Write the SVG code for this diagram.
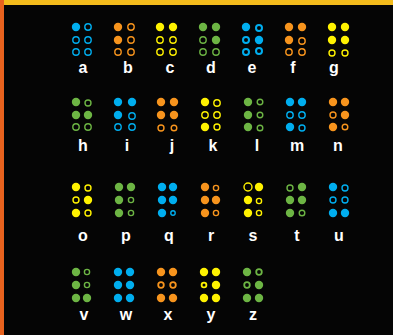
<svg xmlns="http://www.w3.org/2000/svg" width="393" height="335" viewBox="0 0 393 335">
<style>
.bl{color:#00AEEF}.or{color:#F7941D}.ye{color:#FFF200}.gr{color:#6DB544}
.d{fill:currentColor}
.h{fill:none;stroke:currentColor;stroke-width:1.4}
.t{font-family:"Liberation Sans",Arial,sans-serif;font-weight:bold;font-size:16px;fill:#fff;text-anchor:middle}
</style>
<rect width="393" height="335" fill="#050505"/>
<rect x="0" y="0" width="393" height="5" fill="#F4BC1C"/>
<rect x="0" y="0" width="4" height="335" fill="#E8621E"/>
<g id="a" class="bl"><circle class="d" cx="76" cy="27" r="4.2"/><circle class="h" cx="88" cy="27" r="3.2"/><circle class="h" cx="76" cy="40" r="3.2"/><circle class="h" cx="88" cy="40" r="3.2"/><circle class="h" cx="76" cy="52" r="3.2"/><circle class="h" cx="88" cy="52" r="3.2"/><text class="t" x="83" y="73">a</text></g>
<g id="b" class="or"><circle class="d" cx="118" cy="27" r="4.2"/><circle class="h" cx="131" cy="27" r="3.2"/><circle class="d" cx="118" cy="40" r="4.2"/><circle class="h" cx="131" cy="40" r="3.2"/><circle class="h" cx="118" cy="52" r="3.2"/><circle class="h" cx="131" cy="52" r="3.2"/><text class="t" x="128" y="73">b</text></g>
<g id="c" class="ye"><circle class="d" cx="160" cy="27" r="4.2"/><circle class="d" cx="173" cy="27" r="4.2"/><circle class="h" cx="160" cy="40" r="3.2"/><circle class="h" cx="173" cy="40" r="3.2"/><circle class="h" cx="160" cy="52" r="3.2"/><circle class="h" cx="173" cy="52" r="3.2"/><text class="t" x="170" y="73">c</text></g>
<g id="d" class="gr"><circle class="d" cx="203" cy="27" r="4.2"/><circle class="d" cx="216" cy="27" r="4.2"/><circle class="h" cx="203" cy="40" r="3.2"/><circle class="d" cx="216" cy="40" r="4.2"/><circle class="h" cx="203" cy="52" r="3.2"/><circle class="h" cx="216" cy="52" r="3.2"/><text class="t" x="211" y="73">d</text></g>
<g id="e" class="bl"><circle class="d" cx="246" cy="27" r="4.2"/><circle class="h" cx="259" cy="28" r="3" style="stroke-width:2"/><circle class="h" cx="246" cy="40" r="3" style="stroke-width:2"/><circle class="d" cx="259" cy="40" r="4.2"/><circle class="h" cx="246" cy="52" r="3" style="stroke-width:2"/><circle class="h" cx="259" cy="51" r="3" style="stroke-width:2"/><text class="t" x="252" y="73">e</text></g>
<g id="f" class="or"><circle class="d" cx="289" cy="27" r="4.2"/><circle class="d" cx="302" cy="27" r="4.2"/><circle class="d" cx="289" cy="40" r="4.2"/><circle class="h" cx="302" cy="41" r="3.2"/><circle class="h" cx="289" cy="52" r="3.2"/><circle class="h" cx="302" cy="52" r="3.2"/><text class="t" x="293" y="73">f</text></g>
<g id="g" class="ye"><circle class="d" cx="332" cy="27" r="4.2"/><circle class="d" cx="345" cy="27" r="4.2"/><circle class="d" cx="332" cy="40" r="4.2"/><circle class="d" cx="345" cy="40" r="4.2"/><circle class="h" cx="332" cy="53" r="3"/><circle class="h" cx="345" cy="53" r="3"/><text class="t" x="334" y="73">g</text></g>
<g id="h" class="gr"><circle class="d" cx="76" cy="102" r="4.2"/><circle class="h" cx="88" cy="103" r="3"/><circle class="d" cx="76" cy="115" r="4.2"/><circle class="d" cx="88" cy="115" r="4.2"/><circle class="h" cx="76" cy="127" r="3.2"/><circle class="h" cx="88" cy="127" r="3.2"/><text class="t" x="83" y="151">h</text></g>
<g id="i" class="bl"><circle class="d" cx="118" cy="102" r="4.2"/><circle class="d" cx="132" cy="102" r="4.2"/><circle class="d" cx="118" cy="115" r="4.2"/><circle class="h" cx="132" cy="116" r="3.2"/><circle class="h" cx="118" cy="127" r="3.2"/><circle class="h" cx="132" cy="127" r="3.2"/><text class="t" x="127" y="151">i</text></g>
<g id="j" class="or"><circle class="d" cx="161" cy="102" r="4.2"/><circle class="d" cx="174" cy="102" r="4.2"/><circle class="d" cx="161" cy="115" r="4.2"/><circle class="d" cx="174" cy="115" r="4.2"/><circle class="h" cx="161" cy="128" r="3"/><circle class="h" cx="174" cy="128" r="2.8"/><text class="t" x="172" y="151">j</text></g>
<g id="k" class="ye"><circle class="d" cx="205" cy="102" r="4.2"/><circle class="h" cx="217" cy="103" r="3.2"/><circle class="h" cx="205" cy="115" r="3.2"/><circle class="h" cx="217" cy="115" r="3.2"/><circle class="d" cx="205" cy="127" r="4.2"/><circle class="h" cx="217" cy="127" r="3"/><text class="t" x="213" y="151">k</text></g>
<g id="l" class="gr"><circle class="d" cx="248" cy="102" r="4.2"/><circle class="h" cx="260" cy="102" r="2.8"/><circle class="d" cx="248" cy="115" r="4.2"/><circle class="h" cx="260" cy="115" r="2.8"/><circle class="d" cx="248" cy="127" r="4.2"/><circle class="h" cx="260" cy="128" r="2.8"/><text class="t" x="257" y="151">l</text></g>
<g id="m" class="bl"><circle class="d" cx="290" cy="102" r="4.2"/><circle class="d" cx="302" cy="102" r="4.2"/><circle class="h" cx="290" cy="115" r="3.2"/><circle class="h" cx="302" cy="115" r="3.2"/><circle class="d" cx="290" cy="127" r="4.2"/><circle class="h" cx="302" cy="128" r="3"/><text class="t" x="297" y="151">m</text></g>
<g id="n" class="or"><circle class="d" cx="333" cy="102" r="4.2"/><circle class="d" cx="345" cy="102" r="4.2"/><circle class="h" cx="333" cy="115" r="3"/><circle class="d" cx="345" cy="115" r="4.2"/><circle class="d" cx="333" cy="127" r="4.2"/><circle class="h" cx="345" cy="127" r="2.8"/><text class="t" x="338" y="151">n</text></g>
<g id="o" class="ye"><circle class="d" cx="76" cy="187" r="4.2"/><circle class="h" cx="88" cy="188" r="3"/><circle class="h" cx="76" cy="200" r="3"/><circle class="d" cx="88" cy="200" r="4.2"/><circle class="d" cx="76" cy="213" r="4.2"/><circle class="h" cx="88" cy="213" r="3"/><text class="t" x="83" y="241">o</text></g>
<g id="p" class="gr"><circle class="d" cx="119" cy="187" r="4.2"/><circle class="d" cx="131" cy="187" r="4.2"/><circle class="d" cx="119" cy="200" r="4.2"/><circle class="h" cx="131" cy="200" r="2.6"/><circle class="d" cx="119" cy="213" r="4.2"/><circle class="h" cx="131" cy="213" r="2.6"/><text class="t" x="126" y="241">p</text></g>
<g id="q" class="bl"><circle class="d" cx="162" cy="187" r="4.2"/><circle class="d" cx="173" cy="187" r="4.2"/><circle class="d" cx="162" cy="200" r="4.2"/><circle class="d" cx="173" cy="200" r="4.2"/><circle class="d" cx="162" cy="213" r="4.2"/><circle class="h" cx="173" cy="213" r="2.2"/><text class="t" x="169" y="241">q</text></g>
<g id="r" class="or"><circle class="d" cx="205" cy="187" r="4.2"/><circle class="h" cx="216" cy="188" r="2.6"/><circle class="d" cx="205" cy="200" r="4.2"/><circle class="d" cx="216" cy="200" r="4.2"/><circle class="d" cx="205" cy="213" r="4.2"/><circle class="h" cx="216" cy="213" r="2.6"/><text class="t" x="211" y="241">r</text></g>
<g id="s" class="ye"><circle class="h" cx="248" cy="187" r="4"/><circle class="d" cx="259" cy="187" r="4.2"/><circle class="d" cx="248" cy="200" r="4.2"/><circle class="h" cx="259" cy="201" r="2.6"/><circle class="d" cx="248" cy="213" r="4.2"/><circle class="h" cx="259" cy="213" r="2.6"/><text class="t" x="253" y="241">s</text></g>
<g id="t" class="gr"><circle class="h" cx="290" cy="188" r="3"/><circle class="d" cx="302" cy="187" r="4.2"/><circle class="d" cx="290" cy="200" r="4.2"/><circle class="d" cx="302" cy="200" r="4.2"/><circle class="d" cx="290" cy="213" r="4.2"/><circle class="h" cx="302" cy="213" r="2.8"/><text class="t" x="297" y="241">t</text></g>
<g id="u" class="bl"><circle class="d" cx="333" cy="187" r="4.2"/><circle class="h" cx="345" cy="188" r="3"/><circle class="h" cx="333" cy="200" r="3"/><circle class="h" cx="345" cy="200" r="3"/><circle class="d" cx="333" cy="213" r="4.2"/><circle class="d" cx="345" cy="213" r="4.2"/><text class="t" x="339" y="241">u</text></g>
<g id="v" class="gr"><circle class="d" cx="76" cy="272" r="4.2"/><circle class="h" cx="87" cy="272" r="2.6"/><circle class="d" cx="76" cy="285" r="4.2"/><circle class="h" cx="87" cy="285" r="2.6"/><circle class="d" cx="76" cy="298" r="4.2"/><circle class="d" cx="87" cy="298" r="4.2"/><text class="t" x="84" y="320">v</text></g>
<g id="w" class="bl"><circle class="d" cx="118" cy="272" r="4.2"/><circle class="d" cx="130" cy="272" r="4.2"/><circle class="d" cx="118" cy="285" r="4.2"/><circle class="d" cx="130" cy="285" r="4.2"/><circle class="d" cx="118" cy="298" r="4.2"/><circle class="d" cx="130" cy="298" r="4.2"/><text class="t" x="126" y="320">w</text></g>
<g id="x" class="or"><circle class="d" cx="161" cy="272" r="4.2"/><circle class="d" cx="173" cy="272" r="4.2"/><circle class="h" cx="161" cy="285" r="2.8" style="stroke-width:1.8"/><circle class="h" cx="173" cy="285" r="2.8" style="stroke-width:1.8"/><circle class="d" cx="161" cy="298" r="4.2"/><circle class="d" cx="173" cy="298" r="4.2"/><text class="t" x="168" y="320">x</text></g>
<g id="y" class="ye"><circle class="d" cx="204" cy="272" r="4.2"/><circle class="d" cx="216" cy="272" r="4.2"/><circle class="h" cx="204" cy="285" r="2.4" style="stroke-width:1.8"/><circle class="d" cx="216" cy="285" r="4.2"/><circle class="d" cx="204" cy="298" r="4.2"/><circle class="d" cx="216" cy="298" r="4.2"/><text class="t" x="211" y="320">y</text></g>
<g id="z" class="gr"><circle class="d" cx="247" cy="272" r="4.2"/><circle class="h" cx="259" cy="272" r="2.8" style="stroke-width:1.8"/><circle class="h" cx="247" cy="285" r="2.8" style="stroke-width:1.8"/><circle class="d" cx="259" cy="285" r="4.2"/><circle class="d" cx="247" cy="298" r="4.2"/><circle class="d" cx="259" cy="298" r="4.2"/><text class="t" x="253" y="320">z</text></g>
<g id="connectors"/>
</svg>
